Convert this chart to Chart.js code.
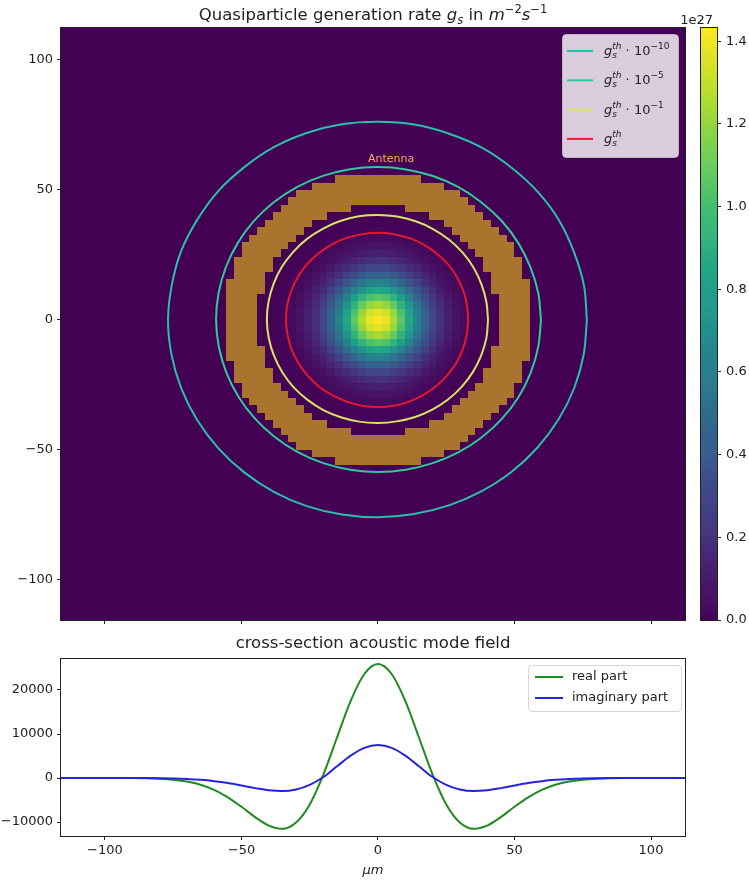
<!DOCTYPE html>
<html>
<head>
<meta charset="utf-8">
<script src="https://cdn.jsdelivr.net/npm/chart.js@4.4.0/dist/chart.umd.min.js"></script>
<style>
  html, body { margin: 0; padding: 0; background: #fff; }
  #wrap { position: relative; width: 749px; height: 883px; overflow: hidden; }
  canvas { position: absolute; }
</style>
</head>
<body>
<div id="wrap">
  <canvas id="mapChart" width="690" height="640" style="left:0;top:0"></canvas>
  <canvas id="barChart" width="79" height="640" style="left:670px;top:0"></canvas>
  <canvas id="modeChart" width="690" height="258" style="left:0;top:625px"></canvas>
</div>
<script>
// ---- values ----

// shared x extent and y extent of the map (µm)
const xExtent = [-116.1, 112.45];
const yExtent = [-115.4, 112.3];
const axisTicks = [-100, -50, 0, 50, 100];

// generation rate on the cuts through the peak (1e25 m^-2 s^-1), one value per map pixel from the centre out
const cellSize = 2.856;
const rateRowCut = [143.2, 138, 125, 106, 85, 64, 46, 31, 20, 12.5, 7.5, 4.2, 2.3, 1.2, 0.6];
const rateColCut = [143.2, 138, 125, 106, 85, 64, 46, 31, 20, 12.5, 7.5, 4.2, 2.3, 1.2, 0.6];

// colorbar (1e27)
const colorbarMax = 1.432;
const colorbarTicks = [0, 0.2, 0.4, 0.6, 0.8, 1.0, 1.2, 1.4];

// antenna ring radii (µm)
const antennaInner = 43.8;
const antennaOuter = 56.5;

// contour radii (µm), every 10 degrees from +x, counter-clockwise
const contourAngles = [0, 10, 20, 30, 40, 50, 60, 70, 80, 90, 100, 110, 120, 130, 140, 150, 160, 170,
  180, 190, 200, 210, 220, 230, 240, 250, 260, 270, 280, 290, 300, 310, 320, 330, 340, 350];
const contour1e10 = [76.5, 76.6, 76.4, 76.6, 76.5, 76.3, 76.4, 76.2, 76.3, 76.2, 76.4, 76.5, 76.6, 76.5, 76.7, 76.6, 76.8, 76.7,
  76.9, 76.8, 76.7, 76.6, 76.5, 76.4, 76.3, 76.2, 76.0, 75.9, 75.8, 75.9, 76.0, 76.2, 76.3, 76.4, 76.5, 76.5];
const contour1e5 = [59.7, 59.6, 59.4, 59.3, 59.2, 59.0, 59.0, 58.9, 58.8, 58.8, 58.9, 59.0, 59.1, 59.2, 59.3, 59.3, 59.3, 59.3,
  59.3, 59.2, 59.1, 59.0, 58.9, 58.8, 58.7, 58.6, 58.5, 58.5, 58.5, 58.6, 58.8, 59.0, 59.2, 59.4, 59.5, 59.6];
const contour1e1 = [40.3, 40.3, 40.3, 40.4, 40.4, 40.4, 40.4, 40.4, 40.4, 40.4, 40.5, 40.5, 40.5, 40.6, 40.6, 40.7, 40.7, 40.7,
  40.7, 40.6, 40.5, 40.4, 40.3, 40.1, 40.0, 39.8, 39.7, 39.6, 39.6, 39.7, 39.8, 39.9, 40.0, 40.1, 40.2, 40.3];
const contourTh = [33.0, 33.1, 33.2, 33.3, 33.4, 33.4, 33.5, 33.5, 33.5, 33.5, 33.5, 33.6, 33.6, 33.6, 33.7, 33.7, 33.7, 33.7,
  33.7, 33.6, 33.6, 33.5, 33.5, 33.5, 33.4, 33.4, 33.5, 33.5, 33.5, 33.4, 33.3, 33.2, 33.1, 33.1, 33.0, 33.0];

// cross-section acoustic mode field
const modeX = [-116.1, -110, -105, -100, -95, -90, -85, -80, -75, -70, -65, -60, -55, -50, -45, -40, -35, -30, -25, -20, -15, -10, -5,
  0, 5, 10, 15, 20, 25, 30, 35, 40, 45, 50, 55, 60, 65, 70, 75, 80, 85, 90, 95, 100, 105, 110, 112.45];
const modeReal = [0, 0, 0, 0, -10, -25, -70, -180, -400, -810, -1530, -2700, -4390, -6540, -8890, -10830, -11560, -10120, -6000, 770, 9210, 17530, 23640,
  25900, 23640, 17530, 9210, 770, -6000, -10120, -11560, -10830, -8890, -6540, -4390, -2700, -1530, -810, -400, -180, -70, -25, -10, 0, 0, 0, 0];
const modeImag = [0, 0, 0, 0, 0, -10, -25, -60, -120, -230, -420, -720, -1150, -1700, -2300, -2800, -2980, -2610, -1550, 220, 2670, 5080, 6850,
  7500, 6850, 5080, 2670, 220, -1550, -2610, -2980, -2800, -2300, -1700, -1150, -720, -420, -230, -120, -60, -25, -10, 0, 0, 0, 0, 0];
const modeYExtent = [-13180, 27045];
const modeTicksY = [-10000, 0, 10000, 20000];

// ---- styling ----
const FONT = '"DejaVu Sans", "Liberation Sans", sans-serif';
const INK = '#222';
const contourColors = ['#27c1aa', '#30cb9b', '#d9e266', '#e3172f'];
const antennaColor = '#a8742e';

const viridisStops = [
  [68, 1, 84], [72, 36, 117], [65, 68, 135], [53, 95, 141], [42, 120, 142],
  [33, 145, 140], [34, 168, 132], [68, 191, 112], [122, 209, 81], [189, 223, 38], [253, 231, 37]
];
function viridis(t) {
  t = Math.min(1, Math.max(0, t)) * (viridisStops.length - 1);
  const i = Math.min(Math.floor(t), viridisStops.length - 2), f = t - i;
  const a = viridisStops[i], b = viridisStops[i + 1];
  return 'rgb(' + a.map((c, k) => Math.round(c + (b[k] - c) * f)).join(',') + ')';
}

const fmt = v => (v < 0 ? '\u2212' : '') + Math.abs(v);

// text with sub/superscripts: parts = {t, s, it, dy, stack}
function drawRich(ctx, parts, x, y, align) {
  let cur = 0, prevStart = 0, prevEnd = 0;
  const items = [];
  for (const p of parts) {
    ctx.font = (p.it ? 'italic ' : '') + p.s + 'px ' + FONT;
    const w = ctx.measureText(p.t).width;
    const start = p.stack ? prevStart : cur;
    items.push({ p, x: start });
    const end = start + w;
    cur = p.stack ? Math.max(prevEnd, end) : end;
    prevStart = start;
    prevEnd = p.stack ? cur : end;
  }
  const x0 = align === 'center' ? x - cur / 2 : x;
  ctx.textAlign = 'left';
  ctx.textBaseline = 'alphabetic';
  for (const it of items) {
    ctx.font = (it.p.it ? 'italic ' : '') + it.p.s + 'px ' + FONT;
    ctx.fillText(it.p.t, x0 + it.x, y + (it.p.dy || 0));
  }
}

function gth(exp) {
  const parts = [
    { t: 'g', s: 13, it: true },
    { t: 's', s: 9, it: true, dy: 3 },
    { t: 'th', s: 9, it: true, dy: -6, stack: true }
  ];
  if (exp) {
    parts.push({ t: ' \u00b7 10', s: 13 });
    parts.push({ t: exp, s: 9, dy: -6 });
  }
  return parts;
}

function frame(chart) {
  const { ctx, chartArea: a } = chart;
  ctx.save();
  ctx.strokeStyle = INK;
  ctx.lineWidth = 1;
  ctx.strokeRect(a.left - 0.5, a.top - 0.5, a.right - a.left + 1, a.bottom - a.top + 1);
  ctx.restore();
}

function legendBox(ctx, x, y, w, h) {
  ctx.beginPath();
  ctx.roundRect(x + 0.5, y + 0.5, w, h, 4);
  ctx.fillStyle = 'rgba(255,255,255,0.8)';
  ctx.fill();
  ctx.strokeStyle = 'rgba(204,204,204,0.8)';
  ctx.lineWidth = 1;
  ctx.stroke();
}

function ring(radii) {
  const pts = radii.map((r, k) => ({
    x: r * Math.cos(contourAngles[k] * Math.PI / 180),
    y: r * Math.sin(contourAngles[k] * Math.PI / 180)
  }));
  pts.push(pts[0]);
  return pts;
}

function linAxis(min, max, ticks, labels) {
  return {
    type: 'linear', min, max,
    afterBuildTicks: s => { s.ticks = ticks.map(v => ({ value: v })); },
    grid: { drawOnChartArea: false, drawTicks: true, tickLength: 4, color: INK },
    border: { display: false },
    ticks: { color: INK, font: { family: FONT, size: 13 }, padding: 4, maxRotation: 0, autoSkip: false, callback: labels }
  };
}

// ---- top: generation-rate map ----
const mapPlugin = {
  id: 'mapLayers',
  beforeDatasetsDraw(chart) {
    const { ctx, chartArea: a, scales: { x, y } } = chart;
    ctx.save();
    ctx.beginPath();
    ctx.rect(a.left, a.top, a.right - a.left, a.bottom - a.top);
    ctx.clip();
    ctx.fillStyle = viridis(0);
    ctx.fillRect(a.left, a.top, a.right - a.left, a.bottom - a.top);
    const cell = (i, j, color) => {
      const l = Math.round(x.getPixelForValue((i - 0.5) * cellSize));
      const r = Math.round(x.getPixelForValue((i + 0.5) * cellSize));
      const t = Math.round(y.getPixelForValue((j + 0.5) * cellSize));
      const b = Math.round(y.getPixelForValue((j - 0.5) * cellSize));
      ctx.fillStyle = color;
      ctx.fillRect(l, t, r - l, b - t);
    };
    const n = rateRowCut.length - 1;
    for (let i = -n; i <= n; i++) {
      for (let j = -n; j <= n; j++) {
        const v = rateRowCut[Math.abs(i)] * rateColCut[Math.abs(j)] / rateRowCut[0];
        cell(i, j, viridis(v / (colorbarMax * 100)));
      }
    }
    const m = Math.ceil(antennaOuter / cellSize);
    for (let i = -m; i <= m; i++) {
      for (let j = -m; j <= m; j++) {
        const r = Math.hypot(i, j) * cellSize;
        if (r >= antennaInner && r <= antennaOuter) cell(i, j, antennaColor);
      }
    }
    ctx.restore();
  },
  afterDatasetsDraw(chart) {
    const { ctx, scales: { x, y } } = chart;
    ctx.save();
    ctx.fillStyle = '#f0b064';
    ctx.font = '11px ' + FONT;
    ctx.textAlign = 'center';
    ctx.textBaseline = 'middle';
    ctx.fillText('Antenna', x.getPixelForValue(4.8), y.getPixelForValue(61.8));
    ctx.restore();
  },
  afterDraw(chart) {
    const { ctx, chartArea: a } = chart;
    frame(chart);
    ctx.save();
    ctx.fillStyle = INK;
    drawRich(ctx, [
      { t: 'Quasiparticle generation rate ', s: 16.5 },
      { t: 'g', s: 16.5, it: true },
      { t: 's', s: 11.5, it: true, dy: 4 },
      { t: ' in ', s: 16.5 },
      { t: 'm', s: 16.5, it: true },
      { t: '\u22122', s: 11.5, dy: -7 },
      { t: 's', s: 16.5, it: true },
      { t: '\u22121', s: 11.5, dy: -7 }
    ], (a.left + a.right) / 2, 20, 'center');

    legendBox(ctx, 562, 34, 116, 123);
    const rows = [gth('\u221210'), gth('\u22125'), gth('\u22121'), gth(null)];
    rows.forEach((parts, k) => {
      const ry = 51 + k * 29.3;
      ctx.strokeStyle = contourColors[k];
      ctx.lineWidth = 2;
      ctx.beginPath();
      ctx.moveTo(567, ry);
      ctx.lineTo(593, ry);
      ctx.stroke();
      ctx.fillStyle = INK;
      drawRich(ctx, parts, 604, ry + 4, 'left');
    });
    ctx.restore();
  }
};

const contourSets = [contour1e10, contour1e5, contour1e1, contourTh].map((radii, k) => ({
  data: ring(radii),
  showLine: true,
  borderColor: contourColors[k],
  borderWidth: 2,
  pointRadius: 0,
  tension: 0.35
}));

const mapX = linAxis(xExtent[0], xExtent[1], axisTicks, () => '');
mapX.afterFit = s => { s.height = 20; };
const mapY = linAxis(yExtent[0], yExtent[1], axisTicks, fmt);
mapY.afterFit = s => { s.width = 61; };

new Chart(document.getElementById('mapChart'), {
  type: 'scatter',
  data: { datasets: contourSets },
  options: {
    responsive: false,
    animation: false,
    events: [],
    layout: { padding: { top: 28, right: 5, left: 0, bottom: 0 } },
    plugins: { legend: { display: false }, tooltip: { enabled: false } },
    scales: { x: mapX, y: mapY }
  },
  plugins: [mapPlugin]
});

// ---- colorbar ----
const colorbarPlugin = {
  id: 'colorbar',
  beforeDatasetsDraw(chart) {
    const { ctx, chartArea: a, scales: { y } } = chart;
    ctx.save();
    const steps = 300;
    for (let k = 0; k < steps; k++) {
      const v0 = colorbarMax * k / steps, v1 = colorbarMax * (k + 1) / steps;
      const t = y.getPixelForValue(v1), b = y.getPixelForValue(v0);
      ctx.fillStyle = viridis((k + 0.5) / steps);
      ctx.fillRect(a.left, t, a.right - a.left, b - t + 0.6);
    }
    ctx.restore();
  },
  afterDraw(chart) {
    const { ctx, chartArea: a } = chart;
    frame(chart);
    ctx.save();
    ctx.fillStyle = INK;
    ctx.font = '13px ' + FONT;
    ctx.textAlign = 'right';
    ctx.textBaseline = 'alphabetic';
    ctx.fillText('1e27', a.right - 4, 24);
    ctx.restore();
  }
};

const barY = linAxis(0, colorbarMax, colorbarTicks, v => v.toFixed(1));
barY.position = 'right';
barY.ticks.padding = 5;
barY.afterFit = s => { s.width = 32; };

new Chart(document.getElementById('barChart'), {
  type: 'scatter',
  data: { datasets: [] },
  options: {
    responsive: false,
    animation: false,
    events: [],
    layout: { padding: { top: 28, right: 0, left: 31, bottom: 20 } },
    plugins: { legend: { display: false }, tooltip: { enabled: false } },
    scales: { x: { type: 'linear', display: false, min: 0, max: 1 }, y: barY }
  },
  plugins: [colorbarPlugin]
});

// ---- bottom: acoustic mode cross-section ----
const modePlugin = {
  id: 'modeExtras',
  afterDraw(chart) {
    const { ctx, chartArea: a } = chart;
    frame(chart);
    ctx.save();
    ctx.fillStyle = INK;
    ctx.font = '16.5px ' + FONT;
    ctx.textAlign = 'center';
    ctx.textBaseline = 'middle';
    ctx.fillText('cross-section acoustic mode field', (a.left + a.right) / 2, 19);

    legendBox(ctx, 528, 40, 153, 46);
    chart.data.datasets.forEach((ds, k) => {
      const ry = 52 + k * 21;
      ctx.strokeStyle = ds.borderColor;
      ctx.lineWidth = 2;
      ctx.beginPath();
      ctx.moveTo(535, ry);
      ctx.lineTo(563, ry);
      ctx.stroke();
      ctx.fillStyle = INK;
      ctx.font = '13px ' + FONT;
      ctx.textAlign = 'left';
      ctx.textBaseline = 'middle';
      ctx.fillText(ds.label, 572, ry);
    });
    ctx.restore();
  }
};

const modeAxisX = linAxis(xExtent[0], xExtent[1], axisTicks, fmt);
modeAxisX.ticks.padding = 3;
modeAxisX.afterFit = s => { s.height = 47; };
modeAxisX.title = { display: true, text: '\u03bcm', color: INK, font: { family: FONT, size: 13, style: 'italic' }, padding: { top: 0, bottom: 5 } };
const modeAxisY = linAxis(modeYExtent[0], modeYExtent[1], modeTicksY, fmt);
modeAxisY.afterFit = s => { s.width = 61; };

new Chart(document.getElementById('modeChart'), {
  type: 'line',
  data: {
    datasets: [
      {
        label: 'real part',
        data: modeX.map((x, i) => ({ x, y: modeReal[i] })),
        borderColor: '#1f8a1f',
        borderWidth: 2,
        pointRadius: 0,
        cubicInterpolationMode: 'monotone',
        order: 1
      },
      {
        label: 'imaginary part',
        data: modeX.map((x, i) => ({ x, y: modeImag[i] })),
        borderColor: '#2424dc',
        borderWidth: 2,
        pointRadius: 0,
        cubicInterpolationMode: 'monotone',
        order: 0
      }
    ]
  },
  options: {
    responsive: false,
    animation: false,
    events: [],
    layout: { padding: { top: 34, right: 5, left: 0, bottom: 0 } },
    plugins: { legend: { display: false }, tooltip: { enabled: false } },
    scales: { x: modeAxisX, y: modeAxisY }
  },
  plugins: [modePlugin]
});
</script>
</body>
</html>
